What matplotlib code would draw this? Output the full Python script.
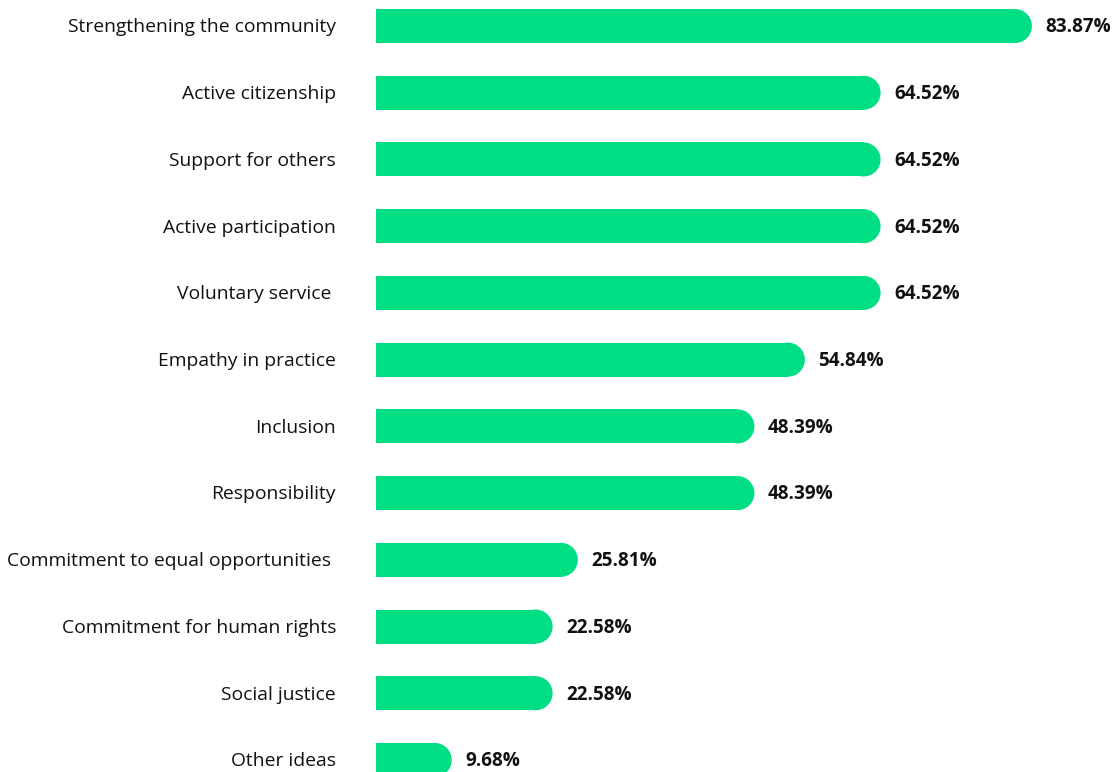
import matplotlib.pyplot as plt
from matplotlib.patches import Rectangle, Ellipse

plt.rcParams['font.family'] = ['Open Sans', 'DejaVu Sans']

categories = [
    "Strengthening the community",
    "Active citizenship",
    "Support for others",
    "Active participation",
    "Voluntary service ",
    "Empathy in practice",
    "Inclusion",
    "Responsibility",
    "Commitment to equal opportunities ",
    "Commitment for human rights",
    "Social justice",
    "Other ideas",
]
values = [83.87, 64.52, 64.52, 64.52, 64.52, 54.84, 48.39, 48.39, 25.81, 22.58, 22.58, 9.68]

green = "#00de84"
bar_h = 0.51       # in category units
r = 2.17           # end-cap radius in percent units (matches bar_h in pixels)

fig = plt.figure(figsize=(11.13, 7.72), dpi=100)
ax = fig.add_axes([0, 0, 1, 1])
ax.set_xlim(-48.08, 94.24)
ax.set_ylim(11.18, -0.39)
ax.axis("off")

for i, (cat, v) in enumerate(zip(categories, values)):
    ax.add_patch(Rectangle((0, i - bar_h / 2), v - r, bar_h, color=green, lw=0))
    ax.add_patch(Ellipse((v - r, i), 2 * r, bar_h, color=green, lw=0))
    ax.text(-5.1, i + 0.02, cat, ha="right", va="center", fontsize=13.9, color="#111111")
    ax.text(v + 1.75, i + 0.02, f"{v:.2f}%", ha="left", va="center", fontsize=13.6,
            fontweight="bold", color="#111111")

fig.savefig("out.png", dpi=100)
